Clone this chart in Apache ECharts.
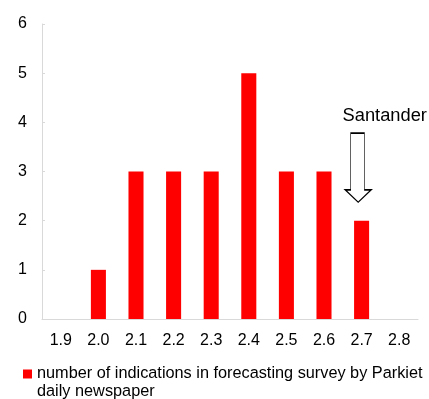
<!DOCTYPE html>
<html>
<head>
<meta charset="utf-8">
<script src="https://cdn.jsdelivr.net/npm/echarts@6/dist/echarts.min.js"></script>
<style>
  html, body { margin: 0; padding: 0; background: #fff; }
  #chart { width: 429px; height: 399px; }
</style>
</head>
<body>
<div id="chart"></div>
<script>
// Forecast values (x) and how many survey participants chose each one
const categories = ['1.9', '2.0', '2.1', '2.2', '2.3', '2.4', '2.5', '2.6', '2.7', '2.8'];
const counts = [0, 1, 3, 3, 3, 5, 3, 3, 2, 0];
const yTicks = [0, 1, 2, 3, 4, 5, 6];
const seriesName = 'number of indications in forecasting survey by Parkiet daily newspaper';
const legendLines = ['number of indications in forecasting survey by Parkiet', 'daily newspaper'];
const highlight = { category: '2.7', value: 2, label: 'Santander' };

const FONT = 'Liberation Sans, Arial, sans-serif';
const chart = echarts.init(document.getElementById('chart'));

// Hollow down arrow drawn as a path symbol
const arrowPath = 'path://M5.4 0 L19 0 L19 56.7 L25.7 56.7 L12.85 69 L0 56.7 L5.4 56.7 Z';

chart.setOption({
  animation: false,
  grid: { left: 42, right: 11, top: 24, bottom: 80 },
  xAxis: {
    type: 'category',
    data: categories,
    axisLine: { lineStyle: { color: '#d9d9d9', width: 1 } },
    axisTick: { show: false },
    axisLabel: { color: '#000', fontFamily: FONT, fontSize: 16, margin: 14 }
  },
  yAxis: {
    type: 'value',
    min: yTicks[0],
    max: yTicks[yTicks.length - 1],
    interval: 1,
    splitLine: { show: false },
    axisLine: { show: true, lineStyle: { color: '#d9d9d9', width: 1 } },
    axisTick: { show: true, inside: true, length: 3, lineStyle: { color: '#d9d9d9' } },
    axisLabel: { color: '#000', fontFamily: FONT, fontSize: 16, margin: 15 }
  },
  legend: {
    left: 23,
    top: 347,
    padding: 0,
    itemWidth: 9,
    itemHeight: 9,
    icon: 'rect',
    data: [seriesName],
    // leading blank line keeps the marker level with the first text line
    formatter: function () {
      return '\n' + legendLines.join('\n');
    },
    textStyle: {
      color: '#000',
      fontFamily: FONT,
      fontSize: 16.3,
      lineHeight: 18
    }
  },
  series: [{
    name: seriesName,
    type: 'bar',
    data: counts,
    barWidth: '40%',
    itemStyle: { color: '#ff0000' },
    markPoint: {
      silent: true,
      data: [{
        coord: [highlight.category, highlight.value],
        symbol: arrowPath,
        symbolSize: [26, 69],
        symbolOffset: [-3.4, -53],
        itemStyle: { color: '#fff', borderColor: '#000', borderWidth: 1 },
        label: {
          show: true,
          position: 'top',
          distance: 7,
          offset: [26.5, 0],
          formatter: highlight.label,
          color: '#000',
          fontFamily: FONT,
          fontSize: 18.3
        }
      }]
    }
  }]
});
</script>
</body>
</html>
